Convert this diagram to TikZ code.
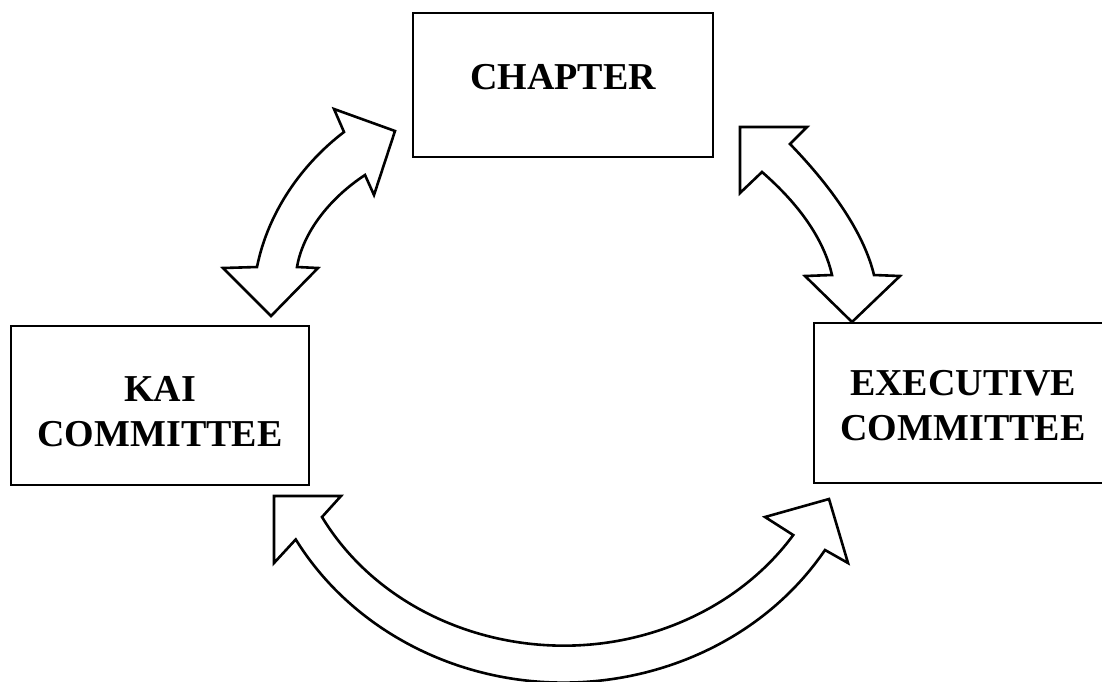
\documentclass[tikz,border=0pt]{standalone}
\usepackage{fontspec}
\setmainfont{Liberation Serif}
\usetikzlibrary{positioning}

\begin{document}
\begin{tikzpicture}[
    x=1pt, y=-1pt,
    box/.style={rectangle, draw, line width=2.8pt, inner sep=0pt},
    boxtext/.style={align=center, font=\bfseries\fontsize{38}{45}\selectfont},
    blockarrow/.style={draw, line width=2.6pt, fill=white, line join=miter}
]
\clip (0,0) rectangle (1102,681);

% Boxes
\node[box, minimum width=300pt, minimum height=144pt] (chapter) at (563,85) {};
\node[box, minimum width=298pt, minimum height=159pt] (kai) at (160,405.5) {};
\node[box, minimum width=298pt, minimum height=160pt] (exec) at (963,403) {};

% Box texts
\node[boxtext] (chaptertext) at ([yshift=8pt]chapter.center) {CHAPTER};
\node[boxtext] (kaitext) at ([yshift=-6.5pt]kai.center) {KAI\\COMMITTEE};
\node[boxtext] (exectext) at ([yshift=-3pt]exec.center) {EXECUTIVE\\COMMITTEE};

% Arrow between KAI and chapter
\draw[blockarrow] (257,267) -- (223,268) -- (271,316) -- (318,268) -- (297,267)
    .. controls (303,232) and (330,198) .. (365,175) -- (374,195) -- (395,131) -- (334,109) -- (344,132)
    .. controls (302,164) and (268,212) .. (257,267) -- cycle;

% Arrow between chapter and executive
\draw[blockarrow] (740,127) -- (807,127) -- (790,144)
    .. controls (820,175) and (862,225) .. (874,275) -- (900,276) -- (852,322) -- (805,276) -- (832,275)
    .. controls (824,240) and (800,205) .. (762,172) -- (740,193) -- cycle;

% Arrow between KAI and executive
\draw[blockarrow] (274,496) -- (341,496) -- (322,517)
    arc[start angle=151.5, end angle=33.4, x radius=275, y radius=246]
    -- (765,517) -- (829,499) -- (848,563) -- (825,550)
    arc[start angle=32, end angle=150.5, x radius=308, y radius=282]
    -- (274,563) -- cycle;

\end{tikzpicture}
\end{document}
